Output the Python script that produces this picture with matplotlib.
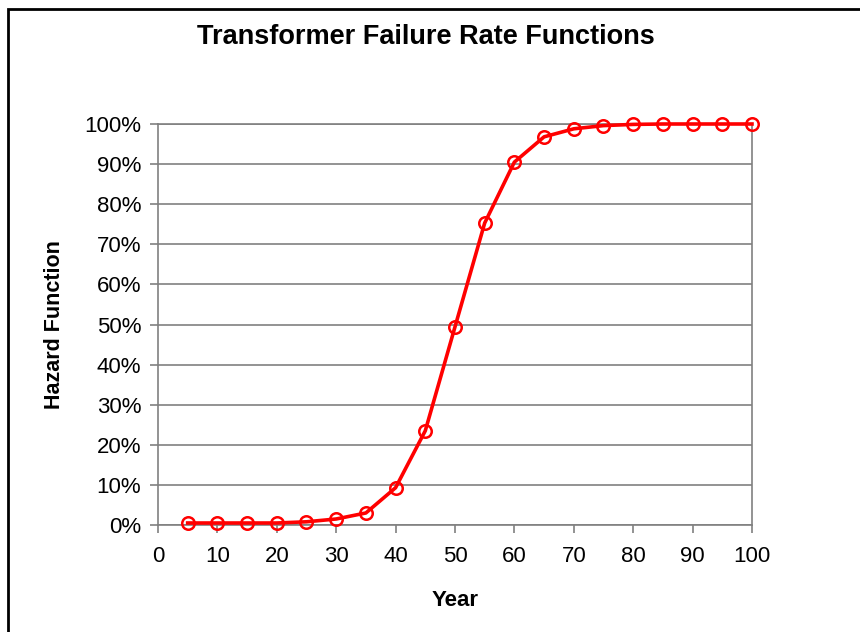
import matplotlib
matplotlib.use("Agg")
import matplotlib.pyplot as plt
from matplotlib.patches import Rectangle
from matplotlib.ticker import PercentFormatter

years = [5, 10, 15, 20, 25, 30, 35, 40, 45, 50, 55, 60, 65, 70, 75, 80, 85, 90, 95, 100]
hazard = [0.5, 0.5, 0.5, 0.5, 0.8, 1.5, 3.0, 9.3, 23.5, 49.4, 75.3, 90.5, 96.8, 98.8,
          99.6, 99.9, 100, 100, 100, 100]

plt.rcParams["font.family"] = ["Liberation Sans", "DejaVu Sans"]

fig = plt.figure(figsize=(8.6, 6.32), dpi=100)
ax = fig.add_axes([0.1837, 0.1693, 0.6907, 0.6345])

# outer frame of the chart area
fig.patches.append(Rectangle((8 / 860, -0.1), 1.2, 1.0 - 9 / 632 + 0.1, transform=fig.transFigure,
                             fill=False, edgecolor="black", linewidth=2))

ax.plot(years, hazard, color="red", linewidth=2.6, marker="o", markersize=9,
        markerfacecolor="none", markeredgecolor="red", markeredgewidth=1.8,
        zorder=3, clip_on=False)

ax.set_xlim(0, 100)
ax.set_ylim(0, 100)
ax.set_xticks(range(0, 101, 10))
ax.set_yticks(range(0, 101, 10))
ax.yaxis.set_major_formatter(PercentFormatter(decimals=0))
ax.grid(True, axis="y", color="#808080", linewidth=1.2)
ax.set_axisbelow(True)
for s in ax.spines.values():
    s.set_color("#808080")
    s.set_linewidth(1.2)
ax.tick_params(colors="#808080", labelcolor="black", length=6, width=1.2, labelsize=16)
ax.tick_params(axis="x", pad=9)
ax.tick_params(axis="y", pad=6)

fig.text(0.4948, 0.942, "Transformer Failure Rate Functions", ha="center", va="center",
         fontsize=19.5, fontweight="bold")
ax.set_xlabel("Year", fontsize=16, fontweight="bold", labelpad=17)
ax.set_ylabel("Hazard Function", fontsize=15.5, fontweight="bold", labelpad=14)

fig.savefig("out.png", dpi=100)
